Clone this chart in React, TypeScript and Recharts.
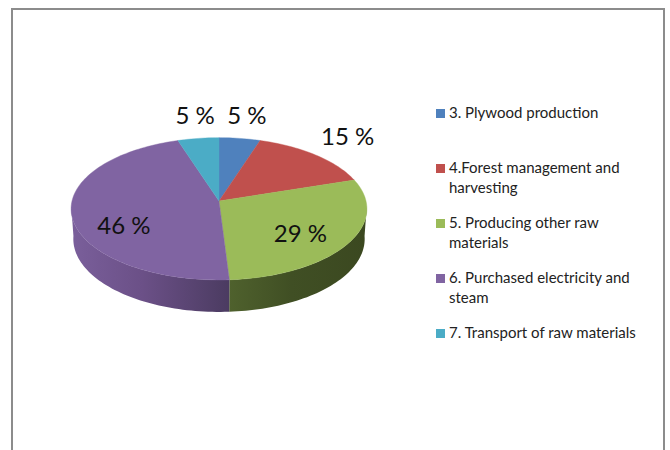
import React from 'react';
import { PieChart, Pie, Legend } from 'recharts';

const categories = [
  '3. Plywood production',
  '4.Forest management and harvesting',
  '5. Producing other raw materials',
  '6. Purchased electricity and steam',
  '7. Transport of raw materials',
];
const shares = [5, 15, 29, 46, 5];
const colors = ['#4F81BD', '#C0504D', '#9BBB59', '#8064A2', '#4BACC6'];

const data = categories.map((name, i) => ({ name, value: shares[i], fill: colors[i] }));

// fake 3d: the disc is tilted and seen in perspective
const TILT = 0.478;
const PERSP = 0.11;
const DROP = 30;
const BASE_TILT = 0.49;
const BASE_SCALE = 0.985;

const labelRadius = [1.4, 1.3, 0.65, 0.65, 1.4];
const labelNudge = [
  [0, -2],
  [6, -7],
  [-1, 5],
  [0, 15],
  [4, -2],
];

const sideStops: Record<string, string[]> = {
  '#8064A2': ['#7a5f9b', '#6b5087', '#4b3b61'],
  '#9BBB59': ['#4f612d', '#404f24', '#3b4820'],
};

const rad = (deg: number) => (deg * Math.PI) / 180;

function project(cx: number, cy: number, r: number, theta: number, rho = 1) {
  const u = rho * Math.sin(rad(theta));
  const v = -rho * Math.cos(rad(theta));
  const w = 1 - PERSP * v;
  return { x: cx + (r * u) / w, y: cy + (r * TILT * v) / w };
}

function projectBase(cx: number, cy: number, r: number, theta: number) {
  const u = Math.sin(rad(theta));
  const v = -Math.cos(rad(theta));
  const w = 1 - PERSP * v;
  return { x: cx + (r * BASE_SCALE * u) / w, y: cy + DROP + (r * BASE_TILT * v) / w };
}

function sweep(from: number, to: number) {
  const out: number[] = [];
  for (let t = from; t < to; t += 1.5) out.push(t);
  out.push(to);
  return out;
}

function SliceShape(props: any) {
  const { cx, cy, outerRadius, startAngle, endAngle, fill } = props;
  const start = 90 - startAngle;
  const end = 90 - endAngle;
  const pts = sweep(start, end).map((t) => project(cx, cy, outerRadius, t));
  const topPath = `M${cx},${cy} ` + pts.map((p) => `L${p.x},${p.y}`).join(' ') + ' Z';

  let side = null;
  const from = Math.max(start, 94);
  const to = Math.min(end, 266);
  if (from < to && sideStops[fill]) {
    const angles = sweep(from, to);
    const rim = angles.map((t) => project(cx, cy, outerRadius, t));
    const base = angles.map((t) => projectBase(cx, cy, outerRadius, t)).reverse();
    const outline = [...rim, ...base];
    const xs = outline.map((p) => p.x);
    const id = 'side' + fill.slice(1);
    const stops = sideStops[fill];
    side = (
      <>
        <defs>
          <linearGradient id={id} gradientUnits="userSpaceOnUse" x1={Math.min(...xs)} x2={Math.max(...xs)} y1={0} y2={0}>
            <stop offset="0" stopColor={stops[0]} />
            <stop offset="0.45" stopColor={stops[1]} />
            <stop offset="1" stopColor={stops[2]} />
          </linearGradient>
        </defs>
        <path d={'M' + outline.map((p) => `${p.x},${p.y}`).join(' L') + ' Z'} fill={`url(#${id})`} />
      </>
    );
  }
  return (
    <g>
      {side}
      <path d={topPath} fill={fill} stroke={fill} strokeWidth={0.4} />
    </g>
  );
}

function sliceLabel(props: any) {
  const { cx, cy, outerRadius, midAngle, value, index } = props;
  const p = project(cx, cy, outerRadius, 90 - midAngle, labelRadius[index]);
  return (
    <text
      x={p.x + labelNudge[index][0]}
      y={p.y + labelNudge[index][1]}
      textAnchor="middle"
      dominantBaseline="central"
      fontFamily="Lato, sans-serif"
      fontSize={24}
      fill="#111"
    >
      {value} %
    </text>
  );
}

function LegendList({ payload }: any) {
  return (
    <div style={{ fontFamily: 'Lato, sans-serif', fontSize: 15, lineHeight: '20px', color: '#222' }}>
      {(payload || []).map((entry: any) => (
        <div key={entry.value} style={{ position: 'relative', height: 55, paddingLeft: 13, boxSizing: 'border-box' }}>
          <span
            style={{ position: 'absolute', left: 0, top: 7, width: 9, height: 9, background: entry.color }}
          />
          {entry.value}
        </div>
      ))}
    </div>
  );
}

export default function App() {
  return (
    <div style={{ position: 'absolute', left: 0, top: 0, width: 670, height: 450, overflow: 'hidden' }}>
      <div
        style={{
          position: 'absolute',
          left: 11,
          top: 8,
          width: 650,
          height: 450,
          borderLeft: '2px solid #8c8c8c',
          borderTop: '2px solid #8c8c8c',
          borderRight: '2px solid #8c8c8c',
        }}
      />
      <PieChart width={670} height={450} margin={{ top: 0, right: 0, bottom: 0, left: 0 }}>
        <Pie
          data={data}
          dataKey="value"
          nameKey="name"
          cx={219}
          cy={201}
          outerRadius={147}
          startAngle={90}
          endAngle={-270}
          shape={SliceShape}
          label={sliceLabel}
          labelLine={false}
          isAnimationActive={false}
        />
        <Legend
          layout="vertical"
          align="center"
          verticalAlign="middle"
          content={<LegendList />}
          wrapperStyle={{ left: 436, top: 102, width: 208 }}
        />
      </PieChart>
    </div>
  );
}
